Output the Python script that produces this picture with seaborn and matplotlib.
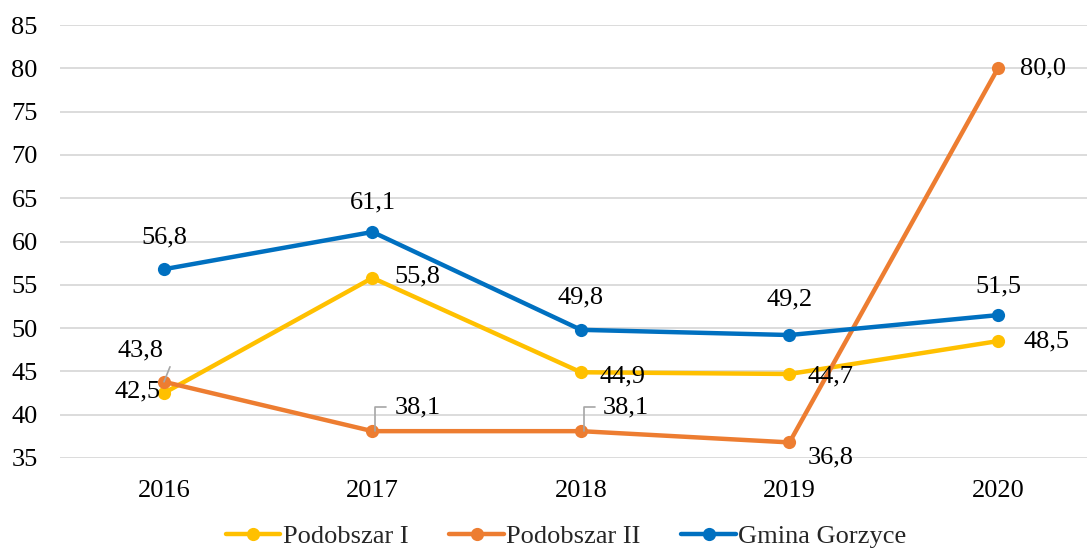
import matplotlib
matplotlib.use("Agg")
import matplotlib.pyplot as plt
import seaborn as sns
import pandas as pd
from matplotlib.lines import Line2D

years = ["2016", "2017", "2018", "2019", "2020"]
series_names = ["Podobszar I", "Podobszar II", "Gmina Gorzyce"]
podobszar_1 = [42.5, 55.8, 44.9, 44.7, 48.5]
podobszar_2 = [43.8, 38.1, 38.1, 36.8, 80.0]
gmina = [56.8, 61.1, 49.8, 49.2, 51.5]
colors = ["#FFC000", "#ED7D31", "#0070C0"]
y_ticks = [35, 40, 45, 50, 55, 60, 65, 70, 75, 80, 85]

rows = []
for name, vals in zip(series_names, [podobszar_1, podobszar_2, gmina]):
    for yr, v in zip(years, vals):
        rows.append({"Rok": yr, "Wartość": v, "Seria": name})
df = pd.DataFrame(rows)

sns.set_theme(style="white")
plt.rcParams["font.family"] = ["Liberation Serif", "DejaVu Serif"]
FS = 19

fig = plt.figure(figsize=(10.87, 5.55), dpi=100)
ax = fig.add_axes([60 / 1087, 97 / 555, 1027 / 1087, 433 / 555])

sns.lineplot(data=df, x="Rok", y="Wartość", hue="Seria", palette=colors,
             hue_order=series_names, marker="o", markersize=9.5, linewidth=3.2,
             markeredgewidth=0, ax=ax, legend=False, sort=False, zorder=3)

ax.set_xlim(-0.4988, 4.427)
ax.set_ylim(35, 85)
ax.set_yticks(y_ticks)
ax.set_yticklabels([str(t) for t in y_ticks], fontsize=FS)
ax.set_xticks(range(len(years)))
ax.set_xticklabels(years, fontsize=FS)
ax.tick_params(axis="both", length=0, colors="#000000")
ax.tick_params(axis="y", pad=16)
ax.tick_params(axis="x", pad=16)
ax.set_xlabel("")
ax.set_ylabel("")
for s in ax.spines.values():
    s.set_visible(False)
ax.yaxis.grid(True, color="#d9d9d9", linewidth=1.3, zorder=0)
ax.xaxis.grid(False)

def fmt(v):
    return f"{v:.1f}".replace(".", ",")

def lab(i, v, dx, dy, ha="left", va="center"):
    ax.annotate(fmt(v), (i, v), xytext=(dx, dy), textcoords="offset pixels",
                ha=ha, va=va, fontsize=FS, color="#000000", zorder=5)

# Gmina Gorzyce - above
g_dy = [32, 30, 32, 36, 29]
for i, v in enumerate(gmina):
    lab(i, v, 0, g_dy[i], ha="center")

# Podobszar I
p1_off = [(-3, 2, "right"), (22, 1, "left"), (19, -4, "left"), (18, -2, "left"), (26, 0, "left")]
for i, v in enumerate(podobszar_1):
    dx, dy, ha = p1_off[i]
    lab(i, v, dx, dy, ha=ha)

# Podobszar II
p2_off = [(-23, 31, "center"), (22, 24, "left"), (22, 24, "left"), (18, -15, "left"), (22, 0, "left")]
for i, v in enumerate(podobszar_2):
    dx, dy, ha = p2_off[i]
    lab(i, v, dx, dy, ha=ha)

# leader lines
lc = "#a6a6a6"
def leader(i, v, pts):
    xs, ys = [], []
    trans = ax.transData
    bx, by = trans.transform((i, v))
    inv = trans.inverted()
    for px, py in pts:
        xx, yy = inv.transform((bx + px, by + py))
        xs.append(xx); ys.append(yy)
    ax.add_line(Line2D(xs, ys, color=lc, lw=1.2, zorder=4))

fig.canvas.draw()
leader(0, podobszar_2[0], [(0, 0), (6, 15)])
leader(1, podobszar_2[1], [(3, 0), (3, 24), (14, 24)])
leader(2, podobszar_2[2], [(3, 0), (3, 24), (14, 24)])

handles = [Line2D([0], [0], color=c, lw=3.2, marker="o", markersize=9.5, markeredgewidth=0)
           for c in colors]
fig.legend(handles, series_names, loc="lower center", bbox_to_anchor=(0.521, -0.03),
           ncol=3, frameon=False, fontsize=FS, handlelength=2.05, handletextpad=0.1,
           columnspacing=1.55)

fig.savefig("out.png", dpi=100)
